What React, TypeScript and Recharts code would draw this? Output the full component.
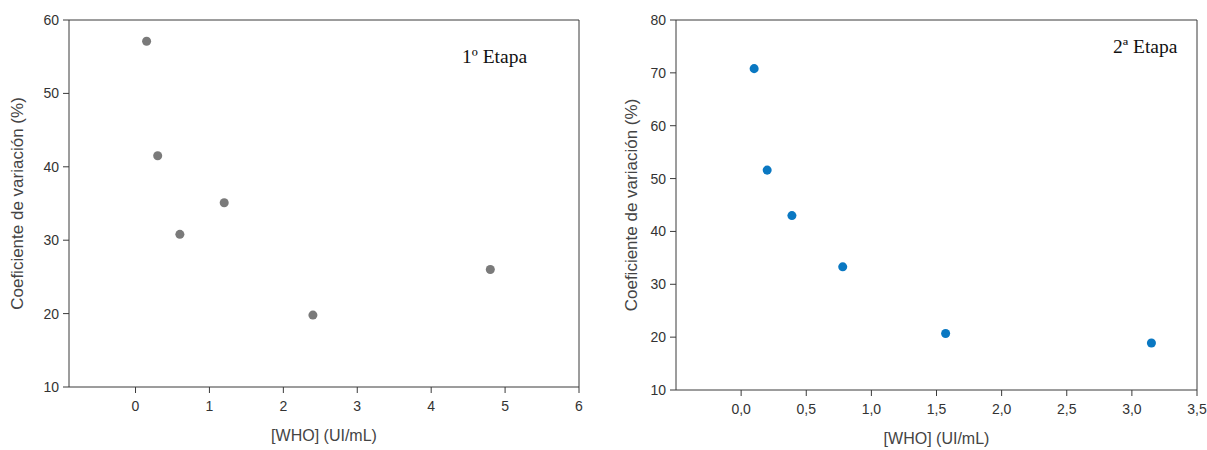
import React from "react";
import {
  ScatterChart,
  Scatter,
  XAxis,
  YAxis,
  ZAxis,
  ReferenceLine,
  Label,
} from "recharts";

// 1º Etapa
const stage1Who = [0.15, 0.3, 0.6, 1.2, 2.4, 4.8];
const stage1Cv = [57.1, 41.5, 30.8, 35.1, 19.8, 26.0];
const stage1XTicks = [0, 1, 2, 3, 4, 5, 6];
const stage1YTicks = [10, 20, 30, 40, 50, 60];

// 2ª Etapa
const stage2Who = [0.1, 0.2, 0.39, 0.78, 1.57, 3.15];
const stage2Cv = [70.8, 51.6, 43.0, 33.3, 20.7, 18.9];
const stage2XTicks = [0, 0.5, 1, 1.5, 2, 2.5, 3, 3.5];
const stage2YTicks = [10, 20, 30, 40, 50, 60, 70, 80];

const xLabel = "[WHO] (UI/mL)";
const yLabel = "Coeficiente de variación (%)";

const axisColor = "#3a3a3a";
const tickStyle = {
  fontFamily: "'Liberation Sans Narrow', 'Liberation Sans', Arial, sans-serif",
  fontSize: 14,
  fill: "#333",
};
const labelStyle = {
  fontFamily: "'Liberation Sans', Arial, sans-serif",
  fontSize: 16,
  fill: "#444",
};

type Point = { x: number; y: number };

const toPoints = (xs: number[], ys: number[]): Point[] =>
  xs.map((x, i) => ({ x, y: ys[i] }));

type PanelProps = {
  data: Point[];
  xDomain: [number, number];
  yDomain: [number, number];
  xTicks: number[];
  yTicks: number[];
  color: string;
  dotSize: number;
  width: number;
  margin: { top: number; right: number; bottom: number; left: number };
  yAxisWidth: number;
  comma?: boolean;
  title: string;
  titlePos: { left: number; top: number };
  yLabelOffset: number;
};

function Panel(p: PanelProps) {
  const fmt = (v: number) =>
    p.comma ? v.toFixed(1).replace(".", ",") : String(v);
  return (
    <div style={{ position: "relative", width: p.width, height: 450 }}>
      <ScatterChart width={p.width} height={450} margin={p.margin}>
        <XAxis
          type="number"
          dataKey="x"
          domain={p.xDomain}
          ticks={p.xTicks}
          allowDataOverflow
          tickFormatter={fmt}
          stroke={axisColor}
          tick={tickStyle}
          tickSize={6}
          tickMargin={8}
          height={50}
        >
          <Label value={xLabel} position="insideBottom" offset={-4} style={labelStyle} />
        </XAxis>
        <YAxis
          type="number"
          dataKey="y"
          domain={p.yDomain}
          ticks={p.yTicks}
          allowDataOverflow
          stroke={axisColor}
          tick={tickStyle}
          tickSize={6}
          tickMargin={4}
          width={p.yAxisWidth}
        >
          <Label
            value={yLabel}
            angle={-90}
            position="insideLeft"
            offset={p.yLabelOffset}
            style={{ ...labelStyle, fontSize: 17, textAnchor: "middle" }}
          />
        </YAxis>
        <ZAxis range={[p.dotSize, p.dotSize]} />
        <ReferenceLine x={p.xDomain[1]} stroke={axisColor} />
        <ReferenceLine y={p.yDomain[1]} stroke={axisColor} />
        <Scatter data={p.data} fill={p.color} isAnimationActive={false} />
      </ScatterChart>
      <div
        style={{
          position: "absolute",
          left: p.titlePos.left,
          top: p.titlePos.top,
          fontFamily: "'Liberation Serif', 'Times New Roman', serif",
          fontSize: 19.5,
          lineHeight: "22px",
          color: "#111",
          whiteSpace: "nowrap",
        }}
      >
        {p.title}
      </div>
    </div>
  );
}

export default function App() {
  return (
    <div
      style={{
        position: "absolute",
        left: 0,
        top: 0,
        width: 1207,
        height: 450,
        display: "flex",
        background: "#fff",
      }}
    >
      <Panel
        data={toPoints(stage1Who, stage1Cv)}
        xDomain={[-0.9, 6]}
        yDomain={[10, 60]}
        xTicks={stage1XTicks}
        yTicks={stage1YTicks}
        color="#7a7a7a"
        dotSize={60}
        width={600}
        margin={{ top: 20, right: 21, bottom: 13, left: 29 }}
        yAxisWidth={40}
        title="1º Etapa"
        titlePos={{ left: 462, top: 46 }}
        yLabelOffset={-12}
      />
      <Panel
        data={toPoints(stage2Who, stage2Cv)}
        xDomain={[-0.5, 3.5]}
        yDomain={[10, 80]}
        xTicks={stage2XTicks}
        yTicks={stage2YTicks}
        color="#0a78c2"
        dotSize={65}
        width={607}
        margin={{ top: 20, right: 10, bottom: 10, left: 36 }}
        yAxisWidth={40}
        comma
        title="2ª Etapa"
        titlePos={{ left: 513, top: 36 }}
        yLabelOffset={-5}
      />
    </div>
  );
}
